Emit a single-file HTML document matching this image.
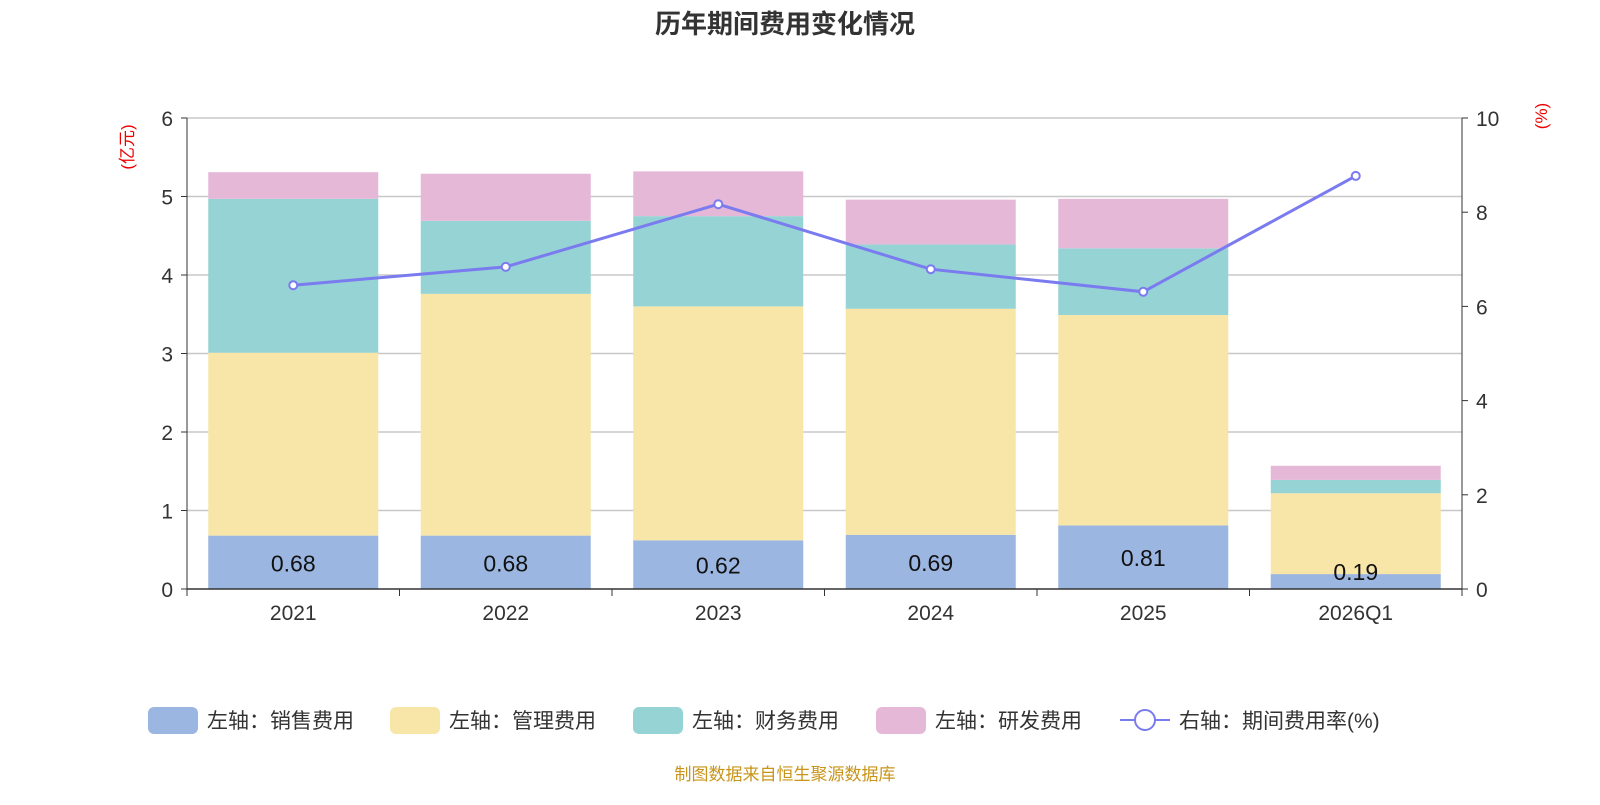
<!DOCTYPE html>
<html><head><meta charset="utf-8"><style>
body{margin:0;background:#fff;}
svg text{font-family:"Liberation Sans","Noto Sans CJK SC",sans-serif;}
</style></head><body>
<svg id="c" width="1600" height="800" xmlns="http://www.w3.org/2000/svg">
<text x="785" y="33" text-anchor="middle" font-size="26" font-weight="bold" fill="#333">历年期间费用变化情况</text>
<text x="0" y="0" transform="translate(133,147) rotate(-90)" text-anchor="middle" font-size="17" fill="#e00">(亿元)</text>
<text x="0" y="0" transform="translate(1547,116) rotate(-90)" text-anchor="middle" font-size="17" fill="#e00">(%)</text>
<g id="grid"></g><g id="bars"></g><g id="line"></g><g id="axes"></g>
<g id="legend" font-size="21" fill="#333">
 <rect x="148" y="707" width="50" height="27" rx="6" fill="#9bb6e0"/><text x="207" y="728">左轴：销售费用</text>
 <rect x="390" y="707" width="50" height="27" rx="6" fill="#f7e6a8"/><text x="449" y="728">左轴：管理费用</text>
 <rect x="633" y="707" width="50" height="27" rx="6" fill="#96d3d4"/><text x="692" y="728">左轴：财务费用</text>
 <rect x="876" y="707" width="50" height="27" rx="6" fill="#e6b8d8"/><text x="935" y="728">左轴：研发费用</text>
 <line x1="1120" y1="720" x2="1170" y2="720" stroke="#7b7bf0" stroke-width="2"/><circle cx="1145" cy="720" r="10" fill="#fff" stroke="#7b7bf0" stroke-width="2"/><text x="1179" y="728">右轴：期间费用率(%)</text>
</g>
<text x="785" y="780" text-anchor="middle" font-size="17" fill="#c8951a">制图数据来自恒生聚源数据库</text>
</svg>
<script>
const categories=["2021","2022","2023","2024","2025","2026Q1"];
const sales=[0.68,0.68,0.62,0.69,0.81,0.19];
const admin=[2.33,3.08,2.98,2.88,2.68,1.03];
const finance=[1.96,0.93,1.15,0.82,0.85,0.17];
const rd=[0.34,0.60,0.57,0.57,0.63,0.18];
const rate=[6.45,6.84,8.17,6.79,6.31,8.77];
const leftTicks=[0,1,2,3,4,5,6];
const rightTicks=[0,2,4,6,8,10];
const NS="http://www.w3.org/2000/svg";
const x0=187,x1=1462,yb=589,yt=118;
const yL=v=>yb-(v/6)*(yb-yt), yR=v=>yb-(v/10)*(yb-yt);
const cw=(x1-x0)/categories.length, xc=i=>x0+cw*(i+0.5);
function mk(t,a,p){const e=document.createElementNS(NS,t);for(const k in a)e.setAttribute(k,a[k]);p.appendChild(e);return e;}
const G=document.getElementById('grid'),B=document.getElementById('bars'),L=document.getElementById('line'),A=document.getElementById('axes');
leftTicks.forEach(v=>{const y=yL(v);
 if(v>0){const g=mk('line',{x1:x0,x2:x1,y1:y,y2:y,stroke:'#c8c8c8','stroke-width':1.5},G);
 
 }
 mk('line',{x1:x0-6,x2:x0,y1:y,y2:y,stroke:'#333'},A);
 const t=mk('text',{x:x0-14,y:y+8,'text-anchor':'end','font-size':21,fill:'#333'},A);t.textContent=v;
 
 });
rightTicks.forEach(v=>{const y=yR(v);
 mk('line',{x1:x1,x2:x1+6,y1:y,y2:y,stroke:'#333'},A);
 const t=mk('text',{x:x1+14,y:y+8,'font-size':21,fill:'#333'},A);t.textContent=v;
 
 });
mk('line',{x1:x0,x2:x0,y1:yt,y2:yb,stroke:'#333'},A);
mk('line',{x1:x1,x2:x1,y1:yt,y2:yb,stroke:'#333'},A);
mk('line',{x1:x0,x2:x1,y1:yb,y2:yb,stroke:'#333','stroke-width':1.5},A);
for(let i=0;i<=categories.length;i++){mk('line',{x1:x0+cw*i,x2:x0+cw*i,y1:yb,y2:yb+7,stroke:'#333'},A);}
const series=[[sales,'#9bb6e0','sales'],[admin,'#f7e6a8','admin'],[finance,'#96d3d4','finance'],[rd,'#e6b8d8','rd']];
categories.forEach((c,i)=>{let acc=0;const bw=170;
 series.forEach(([arr,col,n])=>{const yTop=yL(acc+arr[i]),yBot=yL(acc);
  const r=mk('rect',{x:xc(i)-bw/2,y:yTop,width:bw,height:yBot-yTop,fill:col},B);
  
  
  acc+=arr[i];});
 const ly=Math.min((yL(sales[i])+yb)/2,yb-18);
 const t=mk('text',{x:xc(i),y:ly+9,'text-anchor':'middle','font-size':23,fill:'#111'},B);t.textContent=sales[i].toFixed(2);
 
 
 const xl=mk('text',{x:xc(i),y:620,'text-anchor':'middle','font-size':21,fill:'#333'},A);xl.textContent=c;
 
 });
const pl=mk('polyline',{points:rate.map((v,i)=>xc(i)+','+yR(v)).join(' '),fill:'none',stroke:'#7b7bf0','stroke-width':3},L);


rate.forEach((v,i)=>{const p=mk('circle',{cx:xc(i),cy:yR(v),r:4,fill:'#fff',stroke:'#7b7bf0','stroke-width':2},L);
 
 });
</script>
</body></html>
